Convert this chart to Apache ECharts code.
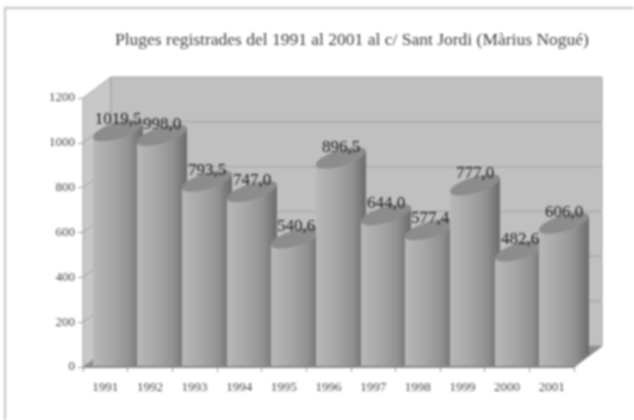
<!DOCTYPE html>
<html><head><meta charset="utf-8">
<style>html,body{margin:0;padding:0;background:#fff}#c{width:634px;height:420px;filter:blur(1px)}</style>
<script src="https://cdn.jsdelivr.net/npm/echarts@6/dist/echarts.min.js"></script>
</head><body><div id="c"></div>
<script>
const years = ['1991','1992','1993','1994','1995','1996','1997','1998','1999','2000','2001'];
const rainfall = [1019.5,998.0,793.5,747.0,540.6,896.5,644.0,577.4,777.0,482.6,606.0];
const rainLabels = ['1019,5','998,0','793,5','747,0','540,6','896,5','644,0','577,4','777,0','482,6','606,0'];
const yTicks = [0,200,400,600,800,1000,1200];
const titleText = 'Pluges registrades del 1991 al 2001 al c/ Sant Jordi (Màrius Nogué)';
const DX = 28, DY = -21;
const chart = echarts.init(document.getElementById('c'));
const serif = '"Liberation Serif","DejaVu Serif",serif';

function walls(params, api){
  const x0 = params.coordSys.x, x1 = x0 + params.coordSys.width;
  const yTop = api.coord([0,1200])[1], yBot = api.coord([0,0])[1];
  const kids = [
    {type:'polygon',shape:{points:[[x0,yBot],[x0+DX,yBot+DY],[x1+DX,yBot+DY],[x1,yBot]]},style:{fill:'#8c8c8c',stroke:'#808080',lineWidth:1}},
    {type:'polygon',shape:{points:[[x0,yTop],[x0+DX,yTop+DY],[x0+DX,yBot+DY],[x0,yBot]]},style:{fill:'#c8c8c8',stroke:'#a0a0a0',lineWidth:1}},
    {type:'rect',shape:{x:x0+DX,y:yTop+DY,width:x1-x0,height:yBot-yTop},style:{fill:'#c0c0c0',stroke:'#a0a0a0',lineWidth:1}}
  ];
  yTicks.forEach(v=>{
    if(v===0||v===1200) return;
    const y = api.coord([0,v])[1];
    kids.push({type:'polyline',shape:{points:[[x0,y],[x0+DX,y+DY],[x1+DX,y+DY]]},style:{fill:null,stroke:'#a0a0a0',lineWidth:1}});
  });
  return {type:'group',children:kids,silent:true};
}
function cylinder(params, api){
  const c = api.coord([api.value(0),api.value(1)]);
  const base = api.coord([api.value(0),0]);
  const x1 = params.coordSys.x + params.coordSys.width;
  const x = Math.round(c[0]-12.5), w = 50, top = c[1], bot = base[1]-1;
  const rx = x+w, ry = top-15;
  const grad = new echarts.graphic.LinearGradient(0,0,1,0,[
    {offset:0,color:'#b8b8b8'},{offset:0.4,color:'#a6a6a6'},{offset:0.72,color:'#929292'},{offset:1,color:'#6a6a6a'}]);
  const cx = x+w/2, cy = top-8;
  const pts = rx > x1
    ? [[x,top],[rx,ry],[rx,bot-(rx-x1)*21/28],[x1,bot],[x,bot]]
    : [[x,top],[rx,ry],[rx,bot],[x,bot]];
  return {type:'group',children:[
    {type:'polygon',shape:{points:pts},style:{fill:grad}},
    {type:'ellipse',x:cx,y:cy,rotation:0.29,originX:0,originY:0,
      shape:{cx:0,cy:0,rx:26,ry:8},style:{fill:'#8c8c8c'}},
    {type:'text',style:{text:rainLabels[params.dataIndex],x:cx,y:top-19,align:'center',verticalAlign:'middle',
      font:'17px '+serif,fill:'#1a1a1a'}}
  ]};
}
chart.setOption({
  animation:false,
  backgroundColor:'#fff',
  graphic:[{type:'rect',shape:{x:5,y:8,width:660,height:440},style:{fill:'none',stroke:'#c4c4c4',lineWidth:2},silent:true}],
  title:{text:titleText,left:110,top:26,textStyle:{fontFamily:serif,fontWeight:'normal',fontSize:17.5,color:'#3c3c3c'}},
  grid:{left:83,right:60,top:98,bottom:53},
  xAxis:{type:'category',data:years,
    axisLine:{lineStyle:{color:'#999'}},axisTick:{show:true,alignWithLabel:false,lineStyle:{color:'#999'}},
    axisLabel:{fontFamily:serif,fontSize:13,color:'#444',margin:14}},
  yAxis:{type:'value',min:0,max:1200,interval:200,
    axisLine:{show:true,lineStyle:{color:'#999'}},axisTick:{show:true,lineStyle:{color:'#999'}},splitLine:{show:false},
    axisLabel:{fontFamily:serif,fontSize:13,color:'#444',formatter:v=>String(v)}},
  series:[
    {type:'custom',renderItem:walls,data:[[0,0]],z:1,clip:false,silent:true},
    {type:'custom',renderItem:cylinder,data:years.map((y,i)=>[i,rainfall[i]]),z:2,clip:false,silent:true,encode:{x:0,y:1}}
  ]
});
</script></body></html>
